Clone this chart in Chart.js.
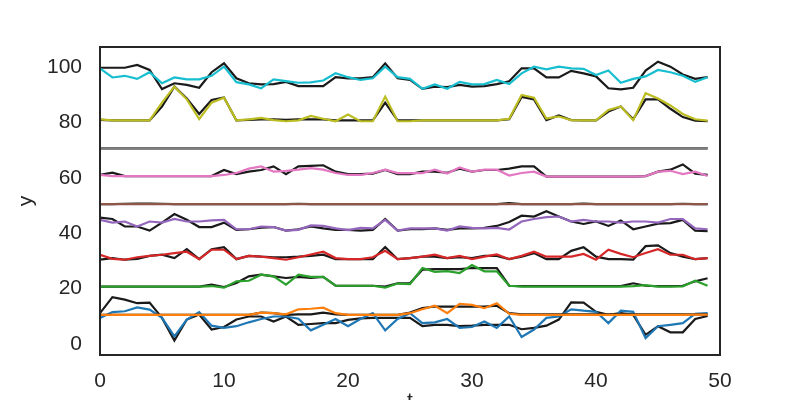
<!DOCTYPE html>
<html>
<head>
<meta charset="utf-8">
<script src="https://cdn.jsdelivr.net/npm/chart.js@4"></script>
<style>
  html, body { margin: 0; padding: 0; background: #ffffff; }
  #wrap { width: 800px; height: 400px; }
</style>
</head>
<body>
<div id="wrap"><canvas id="c" width="800" height="400"></canvas></div>
<script>
// ---- data ----
const t = [0,1,2,3,4,5,6,7,8,9,10,11,12,13,14,15,16,17,18,19,20,21,22,23,24,25,26,27,28,29,30,31,32,33,34,35,36,37,38,39,40,41,42,43,44,45,46,47,48,49];

const blueTrue   = [11.1,16.9,16.0,14.7,14.9,9.4,1.2,8.8,10.6,5.2,6.1,8.8,9.9,9.9,8.1,9.9,6.9,7.2,7.5,7.5,8.7,9.2,9.4,9.4,9.4,9.4,6.4,6.9,6.9,6.4,6.6,6.9,6.9,6.9,5.3,5.8,6.6,8.8,15.0,14.9,11.6,10.5,11.1,10.5,3.3,6.4,4.2,4.2,9.0,10.1];
const blueFit    = [9.4,11.5,11.8,13.2,12.4,9.4,2.7,8.8,11.5,6.6,5.8,6.4,7.8,9.0,9.9,9.9,9.1,4.9,6.9,9.0,6.4,9.0,11.1,4.9,9.0,11.1,7.5,7.8,9.0,5.8,6.1,8.1,5.8,9.9,2.5,5.2,9.4,9.9,12.5,12.0,11.6,7.5,12.0,11.6,2.1,6.4,6.9,7.5,10.9,11.1];
const orangeTrue = [10.5,10.5,10.5,10.5,10.5,10.5,10.5,10.5,10.5,10.5,10.5,10.5,10.5,11.3,11.1,10.5,10.7,10.7,11.3,10.7,10.5,10.5,10.5,10.5,10.5,11.3,12.9,13.5,13.5,13.5,13.5,13.5,13.8,11.1,10.7,10.7,10.7,10.7,10.7,10.7,10.7,10.7,10.7,10.7,10.7,10.7,10.7,10.7,10.7,10.7];
const orangeFit  = [10.5,10.5,10.5,10.5,10.5,10.5,10.5,10.5,10.5,10.5,10.5,10.5,10.5,11.3,11.1,10.7,12.5,12.7,13.1,11.1,10.5,10.5,10.5,10.5,10.5,11.1,12.5,13.8,11.1,14.5,14.1,12.9,14.7,10.9,10.5,10.5,10.5,10.5,10.5,10.5,10.5,10.5,10.5,10.5,10.5,10.5,10.5,10.5,10.6,10.6];
const greenTrue  = [20.7,20.7,20.7,20.7,20.7,20.7,20.7,20.7,20.7,21.4,20.5,22.0,24.4,25.0,24.4,23.8,24.2,23.8,24.2,21.0,21.0,21.0,21.0,20.7,21.9,21.9,26.8,27.0,27.0,27.0,27.4,27.4,27.4,21.0,20.9,20.9,20.9,20.9,20.9,20.9,20.9,20.9,20.9,21.9,21.0,20.9,20.9,21.0,22.6,23.7];
const greenFit   = [20.7,20.7,20.7,20.7,20.7,20.7,20.7,20.7,20.7,20.9,20.3,22.6,22.8,25.0,24.4,21.4,25.0,24.2,24.2,21.0,21.0,21.0,21.0,20.3,21.8,21.6,27.4,26.0,26.3,25.6,28.5,26.2,26.2,21.0,20.7,20.7,20.7,20.7,20.7,20.7,20.7,20.7,20.7,20.9,21.2,20.7,20.7,20.8,22.8,21.0];
const redTrue    = [30.4,31.0,30.4,30.7,31.8,32.2,31.0,34.2,30.6,34.2,34.9,30.6,31.8,31.5,31.3,31.3,31.5,31.8,32.2,30.6,30.6,30.6,30.6,35.0,30.6,31.0,31.5,31.5,31.0,31.3,31.0,31.8,31.8,30.6,31.5,32.8,30.6,30.6,33.6,34.9,31.5,30.6,30.6,30.4,35.3,35.6,32.8,31.5,30.6,31.0];
const redFit     = [32.2,30.7,30.4,31.3,31.8,32.2,32.8,33.3,30.6,34.0,34.0,30.6,31.8,31.5,31.0,30.4,31.3,32.3,33.3,31.0,30.6,30.6,31.3,33.6,30.6,31.0,31.5,32.2,31.0,31.8,30.6,31.5,32.3,30.6,31.8,33.3,31.5,31.5,31.5,32.5,30.4,34.0,32.5,31.3,32.8,34.2,32.2,32.2,30.6,31.0];
const purpleTrue = [45.6,45.1,42.4,42.4,40.9,43.8,46.9,44.8,42.2,42.2,43.8,41.2,41.4,42.0,42.2,40.9,41.4,42.4,41.7,41.2,41.2,40.9,41.2,45.1,40.9,41.4,41.4,41.7,41.2,41.7,41.7,41.9,42.6,44.0,46.3,46.0,47.9,46.0,44.2,43.3,44.2,42.6,44.6,41.4,42.4,43.4,43.6,44.8,40.9,40.7];
const purpleFit  = [44.8,43.8,44.2,42.4,44.2,43.8,45.1,44.2,44.2,44.6,44.8,41.4,41.4,42.4,42.2,40.9,41.2,42.8,42.6,41.7,41.1,41.9,41.7,44.8,40.9,41.7,41.7,41.7,40.9,42.4,41.9,41.7,41.9,41.3,44.2,45.1,45.8,46.0,44.2,44.8,44.2,44.2,43.8,44.2,44.2,43.8,45.1,45.1,41.7,41.4];
const brownTrue  = [50.5,50.5,50.6,50.7,50.7,50.6,50.5,50.5,50.5,50.5,50.5,50.5,50.5,50.5,50.5,50.5,50.6,50.5,50.5,50.5,50.5,50.5,50.5,50.5,50.5,50.5,50.5,50.5,50.5,50.5,50.5,50.5,50.5,50.8,50.5,50.5,50.5,50.5,50.5,50.7,50.5,50.5,50.5,50.5,50.5,50.5,50.5,50.6,50.5,50.5];
const brownFit   = [50.5,50.5,50.5,50.5,50.5,50.5,50.5,50.5,50.5,50.5,50.5,50.5,50.5,50.5,50.5,50.5,50.5,50.5,50.5,50.5,50.5,50.5,50.5,50.5,50.5,50.5,50.5,50.5,50.5,50.5,50.5,50.5,50.5,50.5,50.5,50.5,50.5,50.5,50.5,50.5,50.5,50.5,50.5,50.5,50.5,50.5,50.5,50.5,50.5,50.5];
const pinkTrue   = [61.0,61.8,60.6,60.6,60.6,60.6,60.6,60.6,60.6,60.6,62.8,61.3,62.2,62.8,64.1,61.3,64.1,64.3,64.5,62.2,61.3,61.3,61.5,62.8,61.3,61.3,62.2,62.2,61.8,63.3,62.2,62.8,62.8,63.3,64.1,64.1,60.4,60.4,60.4,60.4,60.4,60.4,60.4,60.4,60.6,62.2,62.9,64.8,61.5,61.0];
const pinkFit    = [61.0,60.6,60.6,60.6,60.6,60.6,60.6,60.6,60.6,60.6,61.0,61.7,63.3,64.1,62.2,62.5,62.9,63.5,62.9,61.7,61.0,61.0,61.7,62.9,61.7,61.7,61.7,62.9,61.5,63.7,62.2,62.9,62.9,60.8,61.7,62.2,60.4,60.4,60.4,60.4,60.4,60.4,60.4,60.4,60.6,62.2,62.5,61.3,62.2,60.6];
const grayTrue   = [70.6,70.6,70.6,70.6,70.6,70.6,70.6,70.6,70.6,70.6,70.6,70.6,70.6,70.6,70.6,70.6,70.6,70.6,70.6,70.6,70.6,70.6,70.6,70.6,70.6,70.6,70.6,70.6,70.6,70.6,70.6,70.6,70.6,70.6,70.6,70.6,70.6,70.6,70.6,70.6,70.6,70.6,70.6,70.6,70.6,70.6,70.6,70.6,70.6,70.6];
const grayFit    = [70.6,70.6,70.6,70.6,70.6,70.6,70.6,70.6,70.6,70.6,70.6,70.6,70.6,70.6,70.6,70.6,70.6,70.6,70.6,70.6,70.6,70.6,70.6,70.6,70.6,70.6,70.6,70.6,70.6,70.6,70.6,70.6,70.6,70.6,70.6,70.6,70.6,70.6,70.6,70.6,70.6,70.6,70.6,70.6,70.6,70.6,70.6,70.6,70.6,70.6];
const oliveTrue  = [80.9,80.7,80.7,80.7,80.7,85.7,92.9,88.6,83.0,88.1,89.0,80.7,80.9,81.1,81.1,80.9,81.1,81.1,81.1,80.7,80.7,80.7,80.7,87.1,80.7,80.7,80.7,80.7,80.7,80.7,80.7,80.7,80.7,81.1,89.2,88.3,80.8,82.5,80.8,80.7,80.7,83.9,85.7,81.1,88.3,88.3,84.9,81.9,80.6,80.4];
const oliveFit   = [81.1,80.7,80.7,80.7,80.7,87.1,92.9,88.3,81.2,87.1,88.9,80.7,81.1,81.6,80.8,80.4,80.7,82.3,81.3,80.4,82.8,80.4,80.4,89.3,80.4,80.4,80.7,80.7,80.7,80.7,80.7,80.7,80.7,81.3,89.9,88.9,81.4,82.1,80.8,80.7,80.7,84.5,85.7,80.8,90.5,88.6,86.1,83.0,81.1,80.6];
const cyanTrue   = [99.7,99.7,99.7,100.7,98.9,92.0,94.1,93.5,92.5,98.1,101.3,95.9,94.1,93.7,93.8,94.6,93.1,93.1,93.1,96.3,95.9,95.9,96.3,101.3,95.9,95.3,92.1,92.9,92.7,93.5,92.9,93.1,93.8,94.8,99.5,99.5,96.2,96.2,98.6,97.7,96.6,92.3,91.9,92.5,98.7,101.9,100.1,97.3,95.7,96.3];
const cyanFit    = [99.5,96.2,96.8,95.7,98.1,94.1,96.2,95.5,95.5,96.8,100.1,94.5,93.7,92.3,95.5,94.9,94.3,94.4,95.1,97.7,96.3,95.3,95.9,100.1,96.3,95.7,92.1,93.7,92.1,94.6,93.7,93.8,95.3,93.8,97.7,100.1,99.1,100.1,99.5,99.3,97.1,98.7,94.3,95.7,96.6,98.9,98.1,96.8,94.6,96.3];

const yTicks = [0, 20, 40, 60, 80, 100];
const xTicks = [0, 10, 20, 30, 40, 50];
const xTitle = 't';
const yTitle = 'y';

// ---- styling ----
const pairs = [
  [blueTrue, blueFit, '#1f77b4'],
  [orangeTrue, orangeFit, '#ff7f0e'],
  [greenTrue, greenFit, '#2ca02c'],
  [redTrue, redFit, '#d62728'],
  [purpleTrue, purpleFit, '#9467bd'],
  [brownTrue, brownFit, '#8c564b'],
  [pinkTrue, pinkFit, '#e377c2'],
  [grayTrue, grayFit, '#7f7f7f'],
  [oliveTrue, oliveFit, '#bcbd22'],
  [cyanTrue, cyanFit, '#17becf']
];
const toPts = arr => arr.map((v, i) => ({x: t[i], y: v}));
const datasets = [];
let k = 0;
const total = pairs.length * 2;
pairs.forEach(([tr, fit, col]) => {
  datasets.push({data: toPts(tr), borderColor: '#1a1a1a', borderWidth: 2.2, pointRadius: 0, tension: 0, order: total - k++});
  datasets.push({data: toPts(fit), borderColor: col, borderWidth: 2.2, pointRadius: 0, tension: 0, order: total - k++});
});

const TXT = '#262626';
const FONT = 'Liberation Sans, Arial, sans-serif';

const frame = {
  id: 'frame',
  afterDraw(chart) {
    const {ctx, chartArea: a} = chart;
    ctx.save();
    ctx.strokeStyle = TXT;
    ctx.lineWidth = 2;
    ctx.strokeRect(a.left, a.top, a.right - a.left, a.bottom - a.top);
    ctx.fillStyle = TXT;
    ctx.font = '21px ' + FONT;
    ctx.textAlign = 'center';
    ctx.textBaseline = 'top';
    ctx.fillText(xTitle, (a.left + a.right) / 2, 391);
    ctx.translate(26, (a.top + a.bottom) / 2);
    ctx.rotate(-Math.PI / 2);
    ctx.textBaseline = 'middle';
    ctx.fillText(yTitle, 0, 0);
    ctx.restore();
  }
};

new Chart(document.getElementById('c'), {
  type: 'line',
  data: {datasets},
  plugins: [frame],
  options: {
    responsive: false,
    animation: false,
    events: [],
    layout: {padding: {left: 0, top: 47, right: 80, bottom: 0}},
    plugins: {legend: {display: false}, tooltip: {enabled: false}},
    scales: {
      x: {
        type: 'linear', min: 0, max: 50,
        afterBuildTicks: s => { s.ticks = xTicks.map(v => ({value: v})); },
        afterFit: s => { s.height = 45; },
        grid: {display: false, drawTicks: false},
        border: {display: false},
        ticks: {color: TXT, font: {size: 21, family: FONT}, padding: 14, maxRotation: 0}
      },
      y: {
        type: 'linear', min: -4, max: 107.2,
        afterBuildTicks: s => { s.ticks = yTicks.map(v => ({value: v})); },
        afterFit: s => { s.width = 100; },
        grid: {display: false, drawTicks: false},
        border: {display: false},
        ticks: {color: TXT, font: {size: 21, family: FONT}, padding: 18}
      }
    }
  }
});
</script>
</body>
</html>
